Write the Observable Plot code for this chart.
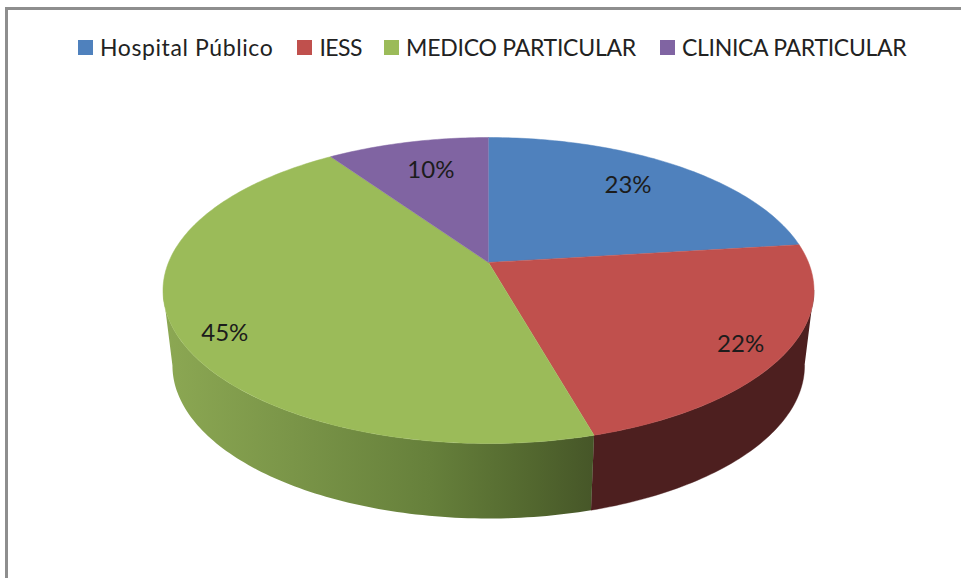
<!DOCTYPE html>
<html>
<head>
<meta charset="utf-8">
<script src="https://cdn.jsdelivr.net/npm/d3@7"></script>
<script src="https://cdn.jsdelivr.net/npm/@observablehq/plot@0.6"></script>
<style>
  html, body { margin: 0; padding: 0; background: #fff; overflow: hidden; width: 961px; height: 578px; }
  #frame { position: absolute; left: 5px; top: 7px; width: 956px; height: 571px; box-sizing: border-box;
           border-left: 3px solid #8e8e8e; border-top: 3px solid #8e8e8e; pointer-events: none; }
  #chart { position: relative; }
  #legendRow { height: 100px; box-sizing: border-box; padding: 34px 0 0 78px; }
  #legendRow > div { display: flex !important; margin: 0 !important; min-height: 0 !important; font: 23px Lato, sans-serif !important; color: #222; }
  #legendRow span { display: inline-flex !important; align-items: center; white-space: nowrap; line-height: 27px; }
  #legendRow span:nth-of-type(1) { letter-spacing: 0.6px; margin: 0 24px 0 0 !important; }
  #legendRow span:nth-of-type(2) { letter-spacing: -0.5px; margin: 0 22px 0 0 !important; }
  #legendRow span:nth-of-type(3) { letter-spacing: -0.25px; margin: 0 24px 0 0 !important; }
  #legendRow span:nth-of-type(4) { letter-spacing: -0.3px; margin: 0 !important; }
  #legendRow svg { margin: 0 7px 0 0 !important; }
  #chart > svg { display: block; }
</style>
</head>
<body>
<div id="frame"></div>
<div id="chart"><div id="legendRow"></div></div>
<script>
// Chart values
const categories = ["Hospital Público", "IESS", "MEDICO PARTICULAR", "CLINICA PARTICULAR"];
const shares = [23.05, 22.57, 44.78, 9.6];
const labels = ["23%", "22%", "45%", "10%"];
const colors = ["#4f81bd", "#c0504d", "#9bbb59", "#8064a2"];

// Perspective view of the pie disc
const W = 961, H = 578, legendH = 100;
const view = { cx: 488, apexY: 262, slope: 99.93, persist: -0.183, spread: 320, depth: 75, shrink: 0.971 };
const visibleFrom = 100.5, visibleTo = 259.5;
const labelRadius = [0.757, 0.872, 0.874, 0.74];
const labelTurn = [-1.9, 1.2, -4.6, 1.3];

function project(deg, r = 1) {
  const t = deg * Math.PI / 180, u = r * Math.sin(t), s = -r * Math.cos(t);
  const d = 1 + view.persist * s;
  return { x: view.cx + view.spread * u / d, y: (view.apexY + view.slope * s) / d };
}
const lower = (p) => ({ x: view.cx + (p.x - view.cx) * view.shrink, y: p.y + view.depth });
const arc = (a, b) => {
  const n = Math.max(2, Math.ceil(Math.abs(b - a)));
  return d3.range(n + 1).map((i) => a + (b - a) * i / n);
};

let acc = 0;
const slices = categories.map((name, i) => {
  const start = acc * 3.6;
  acc += shares[i];
  return { name, i, start, end: acc * 3.6, label: labels[i] };
});

const topPoints = slices.flatMap((s) => [
  { name: s.name, ...project(0, 0) },
  ...arc(s.start, s.end).map((a) => ({ name: s.name, ...project(a) }))
]);

const wallPoints = slices.flatMap((s) => {
  const a = Math.max(s.start, visibleFrom), b = Math.min(s.end, visibleTo);
  if (b <= a) return [];
  const up = arc(a, b).map((d) => project(d));
  const down = up.map(lower).reverse();
  return [...up, ...down].map((p) => ({ name: s.name, ...p }));
});

const textRows = slices.map((s, k) => ({
  text: s.label,
  ...project((s.start + s.end) / 2 + labelTurn[k], labelRadius[k])
}));

const gradient = () => {
  const defs = d3.create("svg:defs");
  const g = defs.append("linearGradient").attr("id", "greenWall").attr("x1", 0).attr("x2", 1).attr("y1", 0).attr("y2", 0);
  [[0, "#8ca853"], [0.3, "#7a9548"], [0.62, "#66803b"], [0.85, "#53682f"], [1, "#465628"]]
    .forEach(([o, c]) => g.append("stop").attr("offset", o).attr("stop-color", c));
  return defs.node();
};

const plot = Plot.plot({
  width: W,
  height: H - legendH,
  margin: 0,
  x: { axis: null, domain: [0, W], range: [0, W] },
  y: { axis: null, domain: [legendH, H], range: [0, H - legendH] },
  color: { domain: categories, range: colors },
  marks: [
    gradient,
    Plot.line(wallPoints.filter((d) => d.name === categories[1]), { x: "x", y: "y", fill: "#4d1f1f", stroke: "#4d1f1f", strokeWidth: 0.4 }),
    Plot.line(wallPoints.filter((d) => d.name === categories[2]), { x: "x", y: "y", fill: "url(#greenWall)", stroke: null }),
    Plot.line(topPoints, { x: "x", y: "y", z: "name", fill: "name", stroke: "name", strokeWidth: 0.5 }),
    Plot.text(textRows, { x: "x", y: "y", dy: 1, text: "text", fontSize: 24, fontFamily: "Lato, sans-serif", fill: "#1c1c1c" })
  ]
});

const legend = plot.legend("color", { swatchSize: 15, label: null });
document.getElementById("legendRow").append(legend);
document.getElementById("chart").append(plot);
</script>
</body>
</html>
